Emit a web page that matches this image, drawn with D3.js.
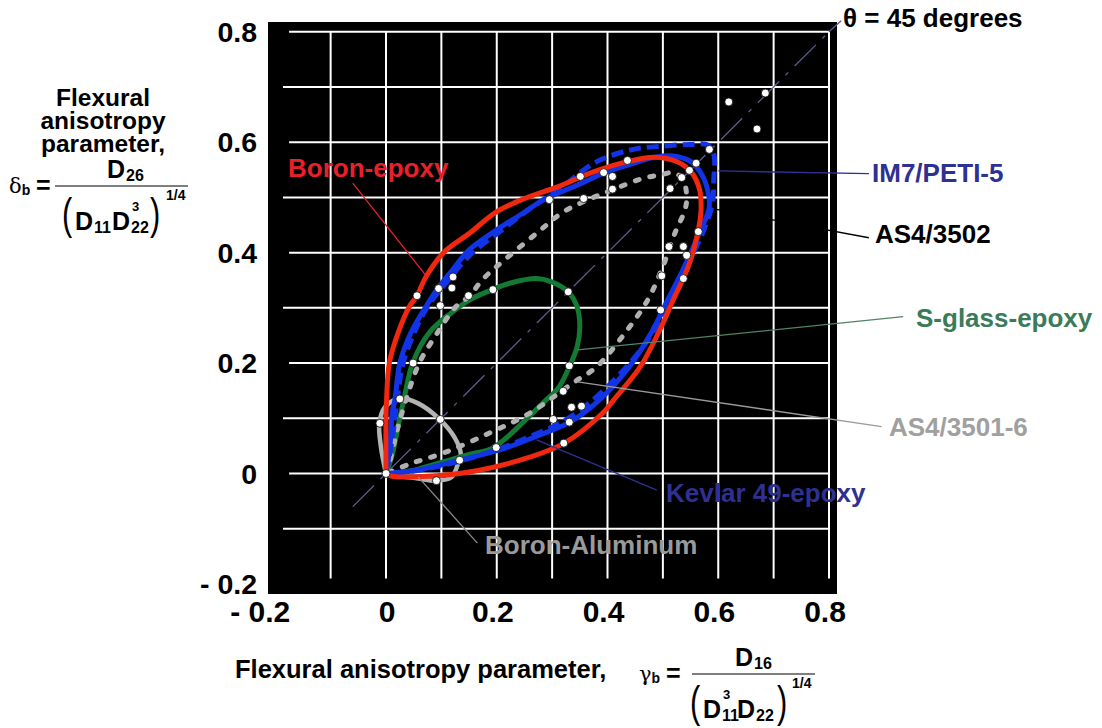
<!DOCTYPE html>
<html>
<head>
<meta charset="utf-8">
<script src="https://cdn.jsdelivr.net/npm/d3@7"></script>
<style>
    body { margin: 0; background: #fff; }
    svg { display: block; font-family: "Liberation Sans", Arial, Helvetica, sans-serif; font-weight: bold; }
</style>
</head>
<body>
<svg id="anisotropy-plot"></svg>
<script>
// Axis ticks and grid
const tickValues = [-0.2, 0, 0.2, 0.4, 0.6, 0.8];
const tickLabels = ["- 0.2", "0", "0.2", "0.4", "0.6", "0.8"];
const gridValues = [-0.1, 0, 0.1, 0.2, 0.3, 0.4, 0.5, 0.6, 0.7, 0.8];

const materialNames = ["Boron-epoxy", "IM7/PETI-5", "AS4/3502", "S-glass-epoxy",
    "AS4/3501-6", "Kevlar 49-epoxy", "Boron-Aluminum"];

// Loci of (gamma_b, delta_b) as the ply angle sweeps 0..90 deg
const boronEpoxy = [[0,0],[0,0.098],[0.001,0.133],[0.006,0.2],[0.022,0.255],[0.042,0.302],[0.056,0.322],
    [0.072,0.356],[0.104,0.4],[0.152,0.436],[0.198,0.473],[0.245,0.496],[0.312,0.52],[0.371,0.545],
    [0.432,0.564],[0.486,0.573],[0.525,0.565],[0.552,0.545],[0.566,0.515],[0.569,0.478],[0.563,0.436],
    [0.546,0.375],[0.519,0.315],[0.492,0.255],[0.459,0.193],[0.411,0.133],[0.391,0.109],[0.322,0.055],
    [0.258,0.029],[0.164,0.005],[0.091,-0.004],[0.011,-0.005],[0,0]];

const kevlarEpoxy = [[0,0],[0.007,0.047],[0.011,0.109],[0.016,0.133],[0.025,0.2],[0.045,0.255],[0.072,0.302],
    [0.094,0.336],[0.121,0.37],[0.15,0.405],[0.198,0.44],[0.245,0.47],[0.285,0.496],[0.345,0.522],
    [0.395,0.545],[0.435,0.558],[0.486,0.573],[0.519,0.575],[0.552,0.564],[0.572,0.538],[0.583,0.502],
    [0.583,0.478],[0.566,0.436],[0.539,0.375],[0.509,0.315],[0.479,0.255],[0.439,0.193],[0.385,0.133],
    [0.332,0.093],[0.278,0.07],[0.218,0.047],[0.124,0.022],[0.05,0.005],[0,0]];

const im7Peti5 = [[0,0],[0.011,0.06],[0.02,0.133],[0.031,0.2],[0.051,0.255],[0.075,0.302],[0.106,0.342],
    [0.152,0.396],[0.205,0.438],[0.258,0.478],[0.319,0.52],[0.379,0.564],[0.446,0.587],[0.5,0.593],
    [0.549,0.596],[0.581,0.595],[0.592,0.578],[0.592,0.533],[0.589,0.487],[0.572,0.436],[0.543,0.375],
    [0.509,0.305],[0.473,0.242],[0.426,0.184],[0.377,0.136],[0.323,0.096],[0.265,0.069],[0.205,0.045],
    [0.124,0.02],[0.047,0.004],[0,0]];

const as43501 = [[0,0],[0.006,0.018],[0.02,0.078],[0.036,0.133],[0.06,0.2],[0.093,0.255],[0.126,0.302],
    [0.151,0.322],[0.174,0.351],[0.2,0.375],[0.273,0.436],[0.319,0.473],[0.365,0.496],[0.412,0.515],
    [0.459,0.533],[0.5,0.542],[0.519,0.545],[0.536,0.533],[0.543,0.502],[0.54,0.478],[0.522,0.436],
    [0.5,0.375],[0.473,0.315],[0.432,0.255],[0.38,0.193],[0.339,0.165],[0.259,0.109],[0.186,0.073],
    [0.106,0.038],[0.045,0.018],[0,0]];

const sGlassEpoxy = [[0,0],[0.011,0.033],[0.024,0.096],[0.034,0.142],[0.048,0.2],[0.078,0.255],[0.118,0.291],
    [0.152,0.315],[0.192,0.333],[0.225,0.345],[0.272,0.353],[0.299,0.347],[0.329,0.329],[0.345,0.302],
    [0.35,0.265],[0.345,0.229],[0.331,0.193],[0.312,0.156],[0.289,0.133],[0.251,0.096],[0.212,0.06],
    [0.19,0.045],[0.145,0.033],[0.092,0.018],[0.045,0.005],[0,0]];

const boronAluminum = [[0,0],[-0.009,0.047],[-0.012,0.091],[-0.002,0.12],[0.025,0.136],[0.058,0.127],
    [0.097,0.098],[0.124,0.065],[0.135,0.036],[0.132,0.024],[0.118,-0.007],[0.09,-0.013],[0.058,-0.009],
    [0.018,-0.004],[0,0]];

// Computed sample points marked on the curves
const samplePoints = [[0.584,0.587],[0.56,0.562],[0.548,0.549],[0.534,0.536],[0.513,0.516],[0.436,0.567],
    [0.393,0.545],[0.409,0.538],[0.351,0.538],[0.357,0.498],[0.409,0.515],[0.295,0.496],[0.619,0.673],
    [0.685,0.689],[0.67,0.624],[0.564,0.438],[0.511,0.411],[0.537,0.411],[0.543,0.395],[0.498,0.358],
    [0.537,0.353],[0.496,0.296],[0.056,0.322],[0.095,0.335],[0.121,0.356],[0.119,0.336],[0.098,0.304],
    [0.149,0.322],[0.193,0.333],[0.329,0.329],[0.049,0.2],[0.331,0.195],[0.32,0.149],[0.025,0.135],
    [-0.011,0.091],[0.098,0.098],[0.335,0.12],[0.353,0.122],[0.302,0.098],[0.331,0.093],[0.199,0.047],
    [0.133,0.024],[0.321,0.055],[0.091,-0.013],[0,0]];

class AnisotropyChart {
    constructor() {
        this.width = 1102;
        this.height = 728;
        this.x = d3.scaleLinear().domain([0, 0.8]).range([386, 829]);
        this.y = d3.scaleLinear().domain([0, 0.8]).range([473.5, 31.8]);
        this.svg = d3.select("#anisotropy-plot")
            .attr("width", this.width)
            .attr("height", this.height);
    }

    draw() {
        this.drawFrame();
        this.drawCurves();
        this.drawCallouts();
        this.drawAxisTitles();
    }

    drawFrame() {
        let x = this.x, y = this.y, svg = this.svg;

        svg.append("rect")
            .attr("x", 268).attr("y", 22)
            .attr("width", 569).attr("height", 572)
            .attr("fill", "#000");

        // grid
        svg.append("g").selectAll("line")
            .data(gridValues)
            .join("line")
            .attr("x1", d => x(d)).attr("x2", d => x(d))
            .attr("y1", y(0.8)).attr("y2", y(-0.19))
            .attr("stroke", "#fff").attr("stroke-width", 2);

        svg.append("g").selectAll("line")
            .data(gridValues)
            .join("line")
            .attr("x1", (d, i) => i % 2 === 0 ? x(-0.186) : x(-0.175))
            .attr("x2", x(0.8))
            .attr("y1", d => y(d)).attr("y2", d => y(d))
            .attr("stroke", "#fff").attr("stroke-width", 2);

        // tick labels
        svg.append("g").selectAll("text")
            .data(tickValues)
            .join("text")
            .attr("x", 257)
            .attr("y", d => y(d))
            .attr("dy", "0.36em")
            .attr("text-anchor", "end")
            .attr("font-size", 28.5)
            .text((d, i) => tickLabels[i]);

        svg.append("g").selectAll("text")
            .data(tickValues)
            .join("text")
            .attr("x", d => x(d) + (d < 0 ? -15 : d === 0 ? 1 : -4))
            .attr("y", 622)
            .attr("text-anchor", "middle")
            .attr("font-size", 30)
            .text((d, i) => tickLabels[i]);

        // theta = 45 deg line
        svg.append("line")
            .attr("x1", x(-0.06)).attr("y1", y(-0.06))
            .attr("x2", x(0.8)).attr("y2", y(0.8))
            .attr("stroke", "#5c5c8e").attr("stroke-width", 1.3)
            .attr("stroke-dasharray", "30,9,4,9");
        svg.append("line")
            .attr("x1", x(0.8)).attr("y1", y(0.8))
            .attr("x2", x(0.822)).attr("y2", y(0.82))
            .attr("stroke", "#5c5c8e").attr("stroke-width", 1.3);
    }

    drawCurves() {
        let x = this.x, y = this.y;
        let line = d3.line()
            .x(d => x(d[0]))
            .y(d => y(d[1]))
            .curve(d3.curveCatmullRom.alpha(0.5));

        let g = this.svg.append("g").attr("fill", "none");

        g.append("path").datum(boronAluminum).attr("d", line)
            .attr("stroke", "#b4b4b4").attr("stroke-width", 4.5);
        g.append("path").datum(sGlassEpoxy).attr("d", line)
            .attr("stroke", "#137a33").attr("stroke-width", 5);
        g.append("path").datum(as43501).attr("d", line)
            .attr("stroke", "#b0b0b0").attr("stroke-width", 5)
            .attr("stroke-linecap", "round").attr("stroke-dasharray", "4,11");
        g.append("path").datum(kevlarEpoxy).attr("d", line)
            .attr("stroke", "#1234e6").attr("stroke-width", 5);
        g.append("path").datum(im7Peti5).attr("d", line)
            .attr("stroke", "#1234e6").attr("stroke-width", 5)
            .attr("stroke-dasharray", "12,6");
        g.append("path").datum(boronEpoxy).attr("d", line)
            .attr("stroke", "#f0280f").attr("stroke-width", 5);

        this.svg.append("g").selectAll("circle")
            .data(samplePoints)
            .join("circle")
            .attr("cx", d => x(d[0]))
            .attr("cy", d => y(d[1]))
            .attr("r", 4)
            .attr("fill", "#fff")
            .attr("stroke", "#000")
            .attr("stroke-width", 0.8);
    }

    drawCallouts() {
        let x = this.x, y = this.y, svg = this.svg;
        // pointer from curve to label end (data units), label anchor in pixels
        let callouts = [
            {name: materialNames[0], color: "#e8202a", line: "#e8202a", from: [0.074, 0.356], to: [-0.06, 0.526], tx: 288, ty: 177},
            {name: materialNames[1], color: "#2e3192", line: "#2e3192", from: [0.6, 0.548], to: [0.872, 0.543], tx: 872, ty: 182},
            {name: materialNames[2], color: "#000", line: "#000", from: [0.594, 0.479], to: [0.872, 0.427], tx: 875, ty: 243},
            {name: materialNames[3], color: "#3b7b59", line: "#4f8466", from: [0.346, 0.224], to: [0.934, 0.284], tx: 916, ty: 327},
            {name: materialNames[4], color: "#a0a0a0", line: "#9a9a9a", from: [0.346, 0.166], to: [0.895, 0.085], tx: 889, ty: 436},
            {name: materialNames[5], color: "#2e3192", line: "#2e3192", from: [0.272, 0.061], to: [0.489, -0.03], tx: 666, ty: 502},
            {name: materialNames[6], color: "#9a9a9a", line: "#8a8a8a", from: [0.058, -0.006], to: [0.165, -0.126], tx: 485, ty: 554}
        ];

        svg.append("g").selectAll("line")
            .data(callouts)
            .join("line")
            .attr("x1", d => x(d.from[0])).attr("y1", d => y(d.from[1]))
            .attr("x2", d => x(d.to[0])).attr("y2", d => y(d.to[1]))
            .attr("stroke", d => d.line)
            .attr("stroke-width", 1.3);

        svg.append("g").selectAll("text")
            .data(callouts)
            .join("text")
            .attr("x", d => d.tx)
            .attr("y", d => d.ty)
            .attr("font-size", 26)
            .attr("fill", d => d.color)
            .text(d => d.name);

        svg.append("text")
            .attr("x", 843).attr("y", 27)
            .attr("font-size", 26)
            .text("\u03b8 = 45 degrees");
    }

    drawAxisTitles() {
        let svg = this.svg;

        // vertical axis title
        let left = svg.append("g");
        ["Flexural", "anisotropy", "parameter,"].forEach((t, i) => {
            left.append("text")
                .attr("x", 103).attr("y", 106 + i * 23)
                .attr("text-anchor", "middle")
                .attr("font-size", 24.5)
                .text(t);
        });
        this.drawFraction(left, {
            symbol: "\u03b4", sx: 9, eqx: 36, barX1: 55, barX2: 188, barY: 186,
            numX: 107, numSub: "26", denX: 75, parenL: 62, parenR: 150, powX: 166,
            terms: [{sub: "11", sup: null}, {sub: "22", sup: "3"}]
        });

        // horizontal axis title
        let bottom = svg.append("g");
        bottom.append("text")
            .attr("x", 235).attr("y", 678)
            .attr("font-size", 25.5)
            .text("Flexural anisotropy parameter,");
        this.drawFraction(bottom, {
            symbol: "\u03b3", sx: 639, eqx: 666, barX1: 692, barX2: 815, barY: 674,
            numX: 735, numSub: "16", denX: 703, parenL: 690, parenR: 777, powX: 792,
            terms: [{sub: "11", sup: "3"}, {sub: "22", sup: null}]
        });
    }

    drawFraction(g, f) {
        let b = f.barY;
        g.append("text")
            .attr("x", f.sx).attr("y", b + 7)
            .attr("font-family", "'DejaVu Serif', serif")
            .attr("font-weight", "normal")
            .attr("font-size", 21)
            .text(f.symbol)
            .append("tspan")
            .attr("font-family", "'Liberation Sans', Arial, sans-serif")
            .attr("font-weight", "bold")
            .attr("font-size", 14)
            .attr("dy", 2)
            .text("b");
        g.append("text")
            .attr("x", f.eqx).attr("y", b + 8)
            .attr("font-size", 25)
            .text("=");
        g.append("line")
            .attr("x1", f.barX1).attr("x2", f.barX2)
            .attr("y1", b).attr("y2", b)
            .attr("stroke", "#000").attr("stroke-width", 1.2);

        // numerator
        let num = g.append("text")
            .attr("x", f.numX).attr("y", b - 8)
            .attr("font-size", 25)
            .text("D");
        num.append("tspan").attr("font-size", 16).attr("dy", 3).attr("dx", 1).text(f.numSub);

        // denominator
        let parenY = b + 43;
        [[f.parenL, "("], [f.parenR, ")"]].forEach(p => {
            g.append("text")
                .attr("x", p[0]).attr("y", parenY)
                .attr("font-weight", "normal")
                .attr("font-size", 44)
                .attr("transform", `translate(${p[0]},${parenY}) scale(0.7,1) translate(${-p[0]},${-parenY})`)
                .text(p[1]);
        });

        let cx = f.denX;
        f.terms.forEach(t => {
            g.append("text").attr("x", cx).attr("y", b + 44).attr("font-size", 25).text("D");
            cx += 19;
            if (t.sup) {
                g.append("text").attr("x", cx + 1).attr("y", b + 25).attr("font-size", 13).text(t.sup);
            }
            g.append("text").attr("x", cx).attr("y", b + 47).attr("font-size", 16).text(t.sub);
            cx += t.sup ? 15 : 18;
        });

        g.append("text")
            .attr("x", f.powX).attr("y", b + 14)
            .attr("font-size", 14)
            .text("1/4");
    }
}

let chart = new AnisotropyChart();
chart.draw();
</script>
</body>
</html>
